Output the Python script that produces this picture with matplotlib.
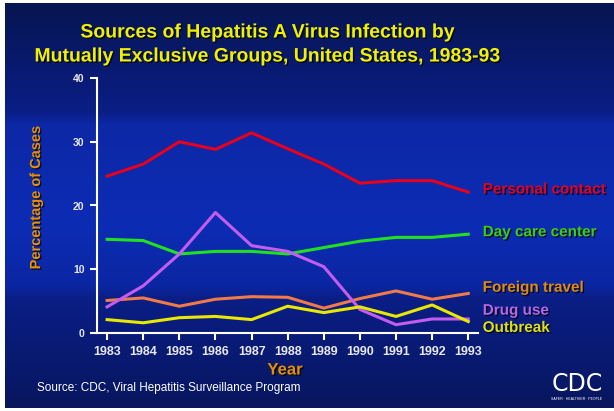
#!/usr/bin/env python3
import matplotlib
matplotlib.use('Agg')
import matplotlib.pyplot as plt
import matplotlib.patheffects as pe
from matplotlib.colors import LinearSegmentedColormap
import numpy as np

years = [1983, 1984, 1985, 1986, 1987, 1988, 1989, 1990, 1991, 1992, 1993]
personal_contact = [24.6, 26.5, 30.0, 28.8, 31.4, 28.9, 26.5, 23.5, 23.9, 23.9, 22.1]
day_care = [14.7, 14.5, 12.4, 12.8, 12.8, 12.4, 13.4, 14.4, 15.0, 15.0, 15.5]
foreign_travel = [5.1, 5.5, 4.2, 5.3, 5.7, 5.6, 3.9, 5.4, 6.6, 5.3, 6.2]
drug_use = [4.1, 7.4, 12.4, 18.9, 13.7, 12.8, 10.4, 3.7, 1.3, 2.2, 2.2]
outbreak = [2.1, 1.6, 2.4, 2.6, 2.1, 4.2, 3.2, 4.1, 2.6, 4.4, 1.8]
y_ticks = [0, 10, 20, 30, 40]

series = [
	('Personal contact', personal_contact, '#e8001c', '#e0002a', 22.5),
	('Day care center', day_care, '#22e020', '#3ccc10', 15.8),
	('Foreign travel', foreign_travel, '#f07a48', '#e08a10', 7.1),
	('Drug use', drug_use, '#c45cf0', '#b468e8', 3.5),
	('Outbreak', outbreak, '#e8e800', '#e0e010', 0.8),
]

shadow = [pe.withSimplePatchShadow(offset=(1, -1), shadow_rgbFace='black', alpha=0.7)]
plt.rcParams['font.family'] = ['Liberation Sans', 'DejaVu Sans']

fig = plt.figure(figsize=(6.14, 4.11), dpi=100, facecolor='white')

# slide background: dark navy with a brighter band through the middle
bg = fig.add_axes([5 / 614, 3 / 411, 609 / 614, 405 / 411])
cmap = LinearSegmentedColormap.from_list('slide', [
	(0.0, '#071550'), (0.27, '#0a1e86'), (0.30, '#0c28a6'),
	(0.55, '#0c2cb4'), (0.70, '#0b26a2'), (0.73, '#0a1e86'), (1.0, '#08165e')])
bg.imshow(np.linspace(0, 1, 256).reshape(-1, 1), aspect='auto', cmap=cmap,
	extent=[0, 1, 1, 0])
bg.set_axis_off()

axis = fig.add_axes([97 / 614, 78 / 411, 381 / 614, 255 / 411])
axis.patch.set_alpha(0)
for name, values, color, textcolor, ypos in series:
	axis.plot(years, values, color=color, linewidth=2.2, solid_joinstyle='round')
	axis.text(1993.4, ypos, name, color=textcolor, fontsize=11, fontweight='bold',
		va='center', ha='left', path_effects=shadow, clip_on=False)

axis.set_xlim(1982.72, 1993.27)
axis.set_ylim(0, 40)
axis.set_xticks(years)
axis.set_xticklabels([str(y) for y in years])
axis.set_yticks(y_ticks)
for side in ['top', 'right']:
	axis.spines[side].set_visible(False)
for side in ['left', 'bottom']:
	axis.spines[side].set_color('white')
	axis.spines[side].set_linewidth(1.5)
axis.tick_params(colors='white', width=1.5, length=5, direction='out')
axis.tick_params(axis='x', labelsize=9, pad=4)
axis.tick_params(axis='y', labelsize=7.5, pad=4)
for lab in axis.get_xticklabels() + axis.get_yticklabels():
	lab.set_fontweight('bold')
	lab.set_color('#e8e8f0')

fig.text(268 / 614, 1 - 33 / 411, 'Sources of Hepatitis A Virus Infection by', ha='center',
	va='center', color='#f0f000', fontsize=14, fontweight='bold', path_effects=shadow)
fig.text(268 / 614, 1 - 57 / 411, 'Mutually Exclusive Groups, United States, 1983-93',
	ha='center', va='center', color='#f0f000', fontsize=14, fontweight='bold',
	path_effects=shadow)
fig.text(36 / 614, 1 - 197 / 411, 'Percentage of Cases', rotation=90, ha='center', va='center',
	color='#e89000', fontsize=10.5, fontweight='bold', path_effects=shadow)
fig.text(285 / 614, 1 - 370 / 411, 'Year', ha='center', va='center',
	color='#e89000', fontsize=12, fontweight='bold', path_effects=shadow)
fig.text(37 / 614, 1 - 388 / 411, 'Source: CDC, Viral Hepatitis Surveillance Program',
	ha='left', va='center', color='white', fontsize=8.5)
fig.text(577 / 614, 1 - 384 / 411, 'CDC', ha='center', va='center', color='white',
	fontsize=17, family='Liberation Sans Narrow')
fig.text(577 / 614, 1 - 399 / 411, 'SAFER \u00b7 HEALTHIER \u00b7 PEOPLE', ha='center',
	va='center', color='white', fontsize=2.5)

fig.savefig('out.png', dpi=100, facecolor='white')
